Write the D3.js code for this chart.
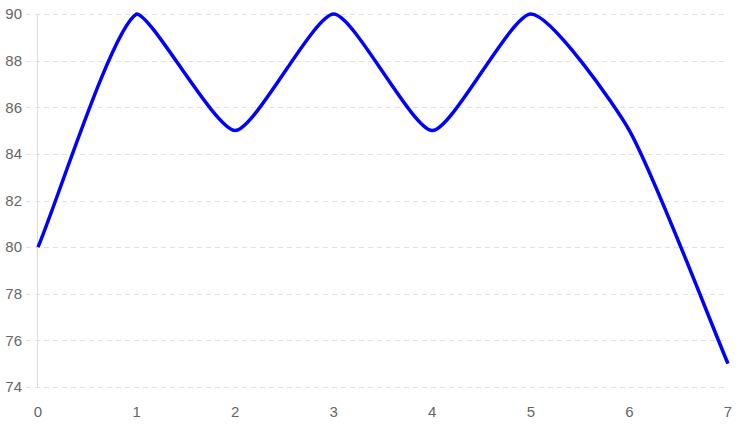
<!DOCTYPE html>
<html>
<head>
<meta charset="utf-8">
<script src="https://cdn.jsdelivr.net/npm/d3@7"></script>
<style>
  body { margin: 0; background: #fff; }
  svg { display: block; }
  text { font-family: "Liberation Sans", Arial, sans-serif; font-size: 15px; fill: #666; }
</style>
</head>
<body>
<div id="chart"></div>
<script>

// data
var xValues = [0, 1, 2, 3, 4, 5, 6, 7];
var yValues = [80, 90, 85, 90, 85, 90, 85, 75];
var yTicks = [74, 76, 78, 80, 82, 84, 86, 88, 90];

var width = 737, height = 426;
var margin = {top: 14, right: 9, bottom: 39, left: 38};

var svg = d3.select("#chart")
  .append("svg")
    .attr("width", width)
    .attr("height", height);

var x = d3.scaleLinear()
    .domain([0, 7])
    .range([margin.left, width - margin.right]);

var y = d3.scaleLinear()
    .domain([74, 90])
    .range([height - margin.bottom, margin.top]);

// spline with tension, control points kept inside the plot area
function tensionCurve(tension, top, bottom) {
  return function(context) {
    var pts;
    return {
      areaStart: function() {},
      areaEnd: function() {},
      lineStart: function() { pts = []; },
      point: function(px, py) { pts.push({x: +px, y: +py}); },
      lineEnd: function() {
        var n = pts.length;
        if (!n) return;
        for (var i = 0; i < n; i++) {
          var prev = pts[i - 1] || pts[i], cur = pts[i], next = pts[i + 1] || pts[i];
          var d01 = Math.hypot(cur.x - prev.x, cur.y - prev.y);
          var d12 = Math.hypot(next.x - cur.x, next.y - cur.y);
          var s01 = d01 / (d01 + d12) || 0, s12 = d12 / (d01 + d12) || 0;
          var fa = tension * s01, fb = tension * s12;
          cur.c1x = cur.x - fa * (next.x - prev.x);
          cur.c1y = Math.max(top, Math.min(bottom, cur.y - fa * (next.y - prev.y)));
          cur.c2x = cur.x + fb * (next.x - prev.x);
          cur.c2y = Math.max(top, Math.min(bottom, cur.y + fb * (next.y - prev.y)));
        }
        context.moveTo(pts[0].x, pts[0].y);
        for (var j = 1; j < n; j++) {
          context.bezierCurveTo(pts[j - 1].c2x, pts[j - 1].c2y, pts[j].c1x, pts[j].c1y, pts[j].x, pts[j].y);
        }
      }
    };
  };
}

// horizontal dashed grid lines with short tick stubs on the left
svg.append("g")
  .selectAll("line")
  .data(yTicks)
  .enter()
  .append("line")
    .attr("x1", margin.left - 12)
    .attr("x2", width - margin.right)
    .attr("y1", function(d) { return Math.round(y(d)) + 0.5; })
    .attr("y2", function(d) { return Math.round(y(d)) + 0.5; })
    .style("stroke", "#e1e1e1")
    .style("stroke-width", 1)
    .style("stroke-dasharray", "5,4");

// y axis line
svg.append("line")
    .attr("x1", margin.left - 0.5)
    .attr("x2", margin.left - 0.5)
    .attr("y1", y(90))
    .attr("y2", y(74))
    .style("stroke", "#dcdcdc")
    .style("stroke-width", 1);

// y tick labels
svg.append("g")
  .selectAll("text")
  .data(yTicks)
  .enter()
  .append("text")
    .attr("x", margin.left - 16)
    .attr("y", function(d) { return y(d); })
    .attr("dy", "0.35em")
    .style("text-anchor", "end")
    .text(function(d) { return d; });

// x tick labels
svg.append("g")
  .selectAll("text")
  .data(xValues)
  .enter()
  .append("text")
    .attr("x", function(d) { return x(d); })
    .attr("y", 417)
    .style("text-anchor", "middle")
    .text(function(d) { return d; });

// the line itself
var line = d3.line()
    .x(function(d, i) { return x(xValues[i]); })
    .y(function(d) { return y(d); })
    .curve(tensionCurve(0.2, y(90), y(74)));

svg.append("path")
    .datum(yValues)
    .attr("d", line)
    .style("fill", "none")
    .style("stroke", "#0000ff")
    .style("stroke-width", 3.5)
    .style("stroke-linejoin", "round");

</script>
</body>
</html>
